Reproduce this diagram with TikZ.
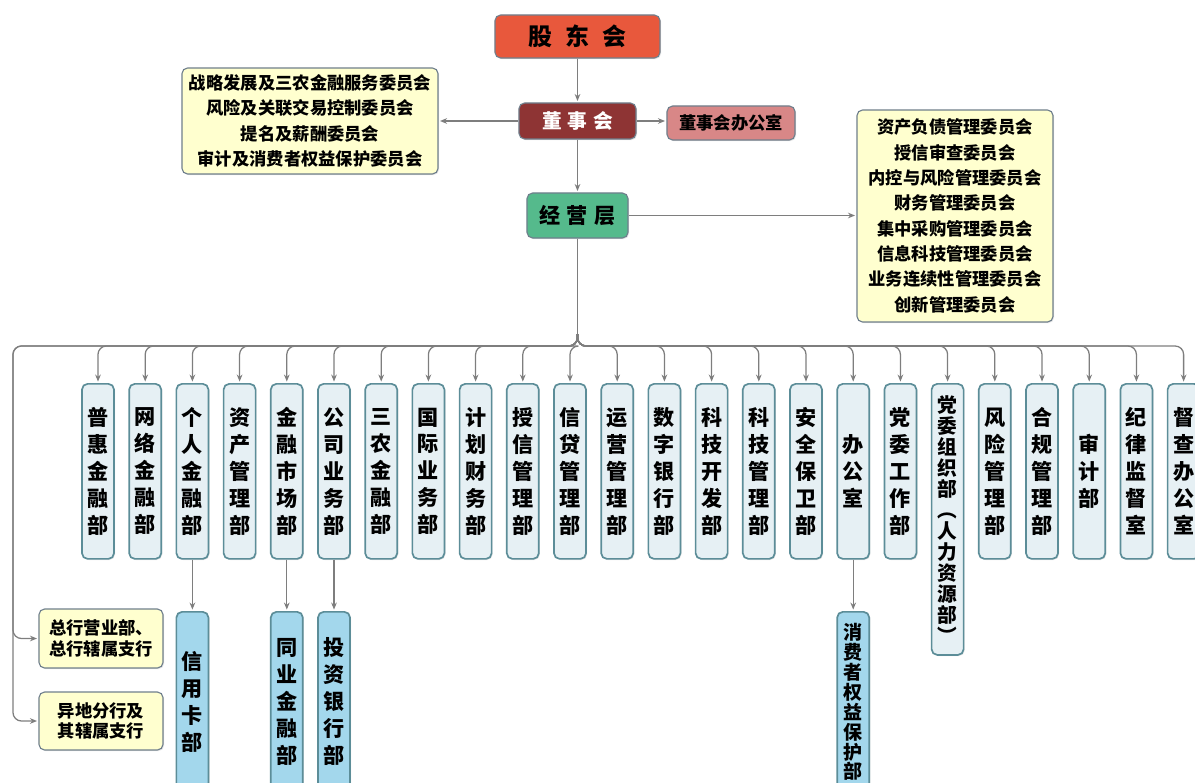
\documentclass[tikz,border=0pt]{standalone}
\usepackage{fontspec}
\setmainfont{Noto Sans CJK SC}
\usepackage{xcolor}
\usepackage{tikz}
\usetikzlibrary{arrows.meta,shadows}

\definecolor{linkgray}{HTML}{7E7E7E}
\definecolor{boxline}{HTML}{6F7F8C}
\definecolor{deptline}{HTML}{5C8D98}
\definecolor{gdhred}{HTML}{E8583C}
\definecolor{dshred}{HTML}{8E3434}
\definecolor{bgspink}{HTML}{D88787}
\definecolor{jycgreen}{HTML}{55BA8C}
\definecolor{cmtyellow}{HTML}{FFFFCF}
\definecolor{deptfill}{HTML}{E6F0F4}
\definecolor{subfill}{HTML}{A3D7EC}

\begin{document}
\begin{tikzpicture}[x=0.025cm,y=-0.025cm,
	trunk/.style={draw=linkgray, line width=0.9pt},
	link/.style={trunk, rounded corners=6pt, -{Stealth[length=5pt,width=4pt]}, shorten >=1pt},
	topbox/.style={draw=boxline, line width=0.8pt, rounded corners=4pt, inner sep=0pt, align=center, drop shadow={shadow xshift=0.8pt, shadow yshift=-0.8pt, opacity=0.2}},
	cmtbox/.style={topbox, fill=cmtyellow, font=\bfseries\fontsize{12.3}{18}\selectfont},
	deptbox/.style={draw=deptline, line width=1.2pt, rounded corners=4pt, fill=deptfill, inner sep=0pt, align=center, anchor=north, minimum width=0.8cm, minimum height=4.375cm, font=\bfseries\fontsize{15}{19.2}\selectfont, drop shadow={shadow xshift=0.8pt, shadow yshift=-0.8pt, opacity=0.2}},
	subbox/.style={deptbox, fill=subfill, minimum height=4.5cm},
	branchbox/.style={topbox, fill=cmtyellow, minimum width=3.1cm, font=\bfseries\fontsize{12.3}{14.5}\selectfont}]
	\newcommand\dtop{383}
	\newcommand\ysub{611}

	\useasboundingbox (0,0) rectangle (1195,782);
	\clip (0,0) rectangle (1195,782);

	\node[topbox, fill=gdhred, minimum width=4.125cm, minimum height=1.075cm, font=\bfseries\fontsize{17}{20}\selectfont] (gdh) at (577.5,36.5) {股\hspace{0.55em}东\hspace{0.55em}会};
	\node[topbox, fill=dshred, text=white, minimum width=2.925cm, minimum height=0.9cm, font=\bfseries\fontsize{14}{17}\selectfont] (dsh) at (577.5,121) {董\hspace{0.3em}事\hspace{0.3em}会};
	\node[topbox, fill=bgspink, minimum width=3.2cm, minimum height=0.85cm, font=\bfseries\fontsize{12.3}{15}\selectfont] (dshbgs) at (731,123) {董事会办公室};
	\node[topbox, fill=jycgreen, minimum width=2.525cm, minimum height=1.125cm, font=\bfseries\fontsize{15}{18}\selectfont] (jyc) at (577.5,215.5) {经\hspace{0.3em}营\hspace{0.3em}层};

	\node[cmtbox, minimum width=6.4cm, minimum height=2.65cm] (cmtL) at (310,121) {战略发展及三农金融服务委员会\\风险及关联交易控制委员会\\提名及薪酬委员会\\审计及消费者权益保护委员会};
	\node[cmtbox, minimum width=4.9cm, minimum height=5.3cm] (cmtR) at (955,216) {资产负债管理委员会\\授信审查委员会\\内控与风险管理委员会\\财务管理委员会\\集中采购管理委员会\\信息科技管理委员会\\业务连续性管理委员会\\创新管理委员会};

	\node[deptbox] (phjr) at (98,\dtop) {普\\惠\\金\\融\\部};
	\node[deptbox] (wljr) at (145.2,\dtop) {网\\络\\金\\融\\部};
	\node[deptbox] (grjr) at (192.4,\dtop) {个\\人\\金\\融\\部};
	\node[deptbox] (zcgl) at (239.6,\dtop) {资\\产\\管\\理\\部};
	\node[deptbox] (jrsc) at (286.8,\dtop) {金\\融\\市\\场\\部};
	\node[deptbox] (gsyw) at (334,\dtop) {公\\司\\业\\务\\部};
	\node[deptbox] (snjr) at (381.2,\dtop) {三\\农\\金\\融\\部};
	\node[deptbox] (gjyw) at (428.4,\dtop) {国\\际\\业\\务\\部};
	\node[deptbox] (jhcw) at (475.6,\dtop) {计\\划\\财\\务\\部};
	\node[deptbox] (sxgl) at (522.8,\dtop) {授\\信\\管\\理\\部};
	\node[deptbox] (xdgl) at (570,\dtop) {信\\贷\\管\\理\\部};
	\node[deptbox] (yygl) at (617.2,\dtop) {运\\营\\管\\理\\部};
	\node[deptbox] (szyh) at (664.4,\dtop) {数\\字\\银\\行\\部};
	\node[deptbox] (kjkf) at (711.6,\dtop) {科\\技\\开\\发\\部};
	\node[deptbox] (kjgl) at (758.8,\dtop) {科\\技\\管\\理\\部};
	\node[deptbox] (aqbw) at (806,\dtop) {安\\全\\保\\卫\\部};
	\node[deptbox] (bgs) at (853.2,\dtop) {办\\公\\室};
	\node[deptbox] (dwgz) at (900.4,\dtop) {党\\委\\工\\作\\部};
	\node[deptbox, minimum height=6.775cm, font=\bfseries\fontsize{14}{14.9}\selectfont] (dwzz) at (947.6,\dtop) {党\\委\\组\\织\\部\\︵\\人\\力\\资\\源\\部\\︶};
	\node[deptbox] (fxgl) at (994.8,\dtop) {风\\险\\管\\理\\部};
	\node[deptbox] (hggl) at (1042,\dtop) {合\\规\\管\\理\\部};
	\node[deptbox] (sjb) at (1089.2,\dtop) {审\\计\\部};
	\node[deptbox] (jljd) at (1136.4,\dtop) {纪\\律\\监\\督\\室};
	\node[deptbox] (dcbgs) at (1183.6,\dtop) {督\\查\\办\\公\\室};

	\node[subbox] (xykb) at (192.4,\ysub) {信\\用\\卡\\部};
	\node[subbox] (tyjr) at (286.8,\ysub) {同\\业\\金\\融\\部};
	\node[subbox] (tzyh) at (334,\ysub) {投\\资\\银\\行\\部};
	\node[subbox, font=\bfseries\fontsize{13.5}{14.2}\selectfont] (xbb) at (853.2,\ysub) {消\\费\\者\\权\\益\\保\\护\\部};

	\node[branchbox, minimum height=1.475cm] (zhyyb) at (101,638.5) {总行营业部、\\总行辖属支行};
	\node[branchbox, minimum height=1.45cm] (ydfh) at (101,721) {异地分行及\\其辖属支行};

	\coordinate (busT) at (577.5,334);
	\coordinate (bus) at (577.5,346);
	\coordinate (busL) at (13,346);

	\draw[link] (gdh) -- (dsh);
	\draw[link] (dsh) -- (jyc);
	\draw[link] (dsh.west) -- (dsh.west -| cmtL.east);
	\draw[link] (dsh.east) -- (dsh.east -| dshbgs.west);
	\draw[link] (jyc.east) -- (jyc.east -| cmtR.west);

	\draw[trunk] (jyc.south) -- (busT);
	\draw[link] (busT) -- (bus) -- (busL) |- (zhyyb.west);
	\draw[link] (busT) -- (bus) -- (busL) |- (ydfh.west);
	\draw[link] (busT) -- (bus) -| (phjr.north);
	\draw[link] (busT) -- (bus) -| (wljr.north);
	\draw[link] (busT) -- (bus) -| (grjr.north);
	\draw[link] (busT) -- (bus) -| (zcgl.north);
	\draw[link] (busT) -- (bus) -| (jrsc.north);
	\draw[link] (busT) -- (bus) -| (gsyw.north);
	\draw[link] (busT) -- (bus) -| (snjr.north);
	\draw[link] (busT) -- (bus) -| (gjyw.north);
	\draw[link] (busT) -- (bus) -| (jhcw.north);
	\draw[link] (busT) -- (bus) -| (sxgl.north);
	\draw[link] (busT) -- (bus) -| (xdgl.north);
	\draw[link] (busT) -- (bus) -| (yygl.north);
	\draw[link] (busT) -- (bus) -| (szyh.north);
	\draw[link] (busT) -- (bus) -| (kjkf.north);
	\draw[link] (busT) -- (bus) -| (kjgl.north);
	\draw[link] (busT) -- (bus) -| (aqbw.north);
	\draw[link] (busT) -- (bus) -| (bgs.north);
	\draw[link] (busT) -- (bus) -| (dwgz.north);
	\draw[link] (busT) -- (bus) -| (dwzz.north);
	\draw[link] (busT) -- (bus) -| (fxgl.north);
	\draw[link] (busT) -- (bus) -| (hggl.north);
	\draw[link] (busT) -- (bus) -| (sjb.north);
	\draw[link] (busT) -- (bus) -| (jljd.north);
	\draw[link] (busT) -- (bus) -| (dcbgs.north);

	\draw[link] (grjr) -- (xykb);
	\draw[link] (jrsc) -- (tyjr);
	\draw[link] (gsyw) -- (tzyh);
	\draw[link] (bgs) -- (xbb);
\end{tikzpicture}
\end{document}
